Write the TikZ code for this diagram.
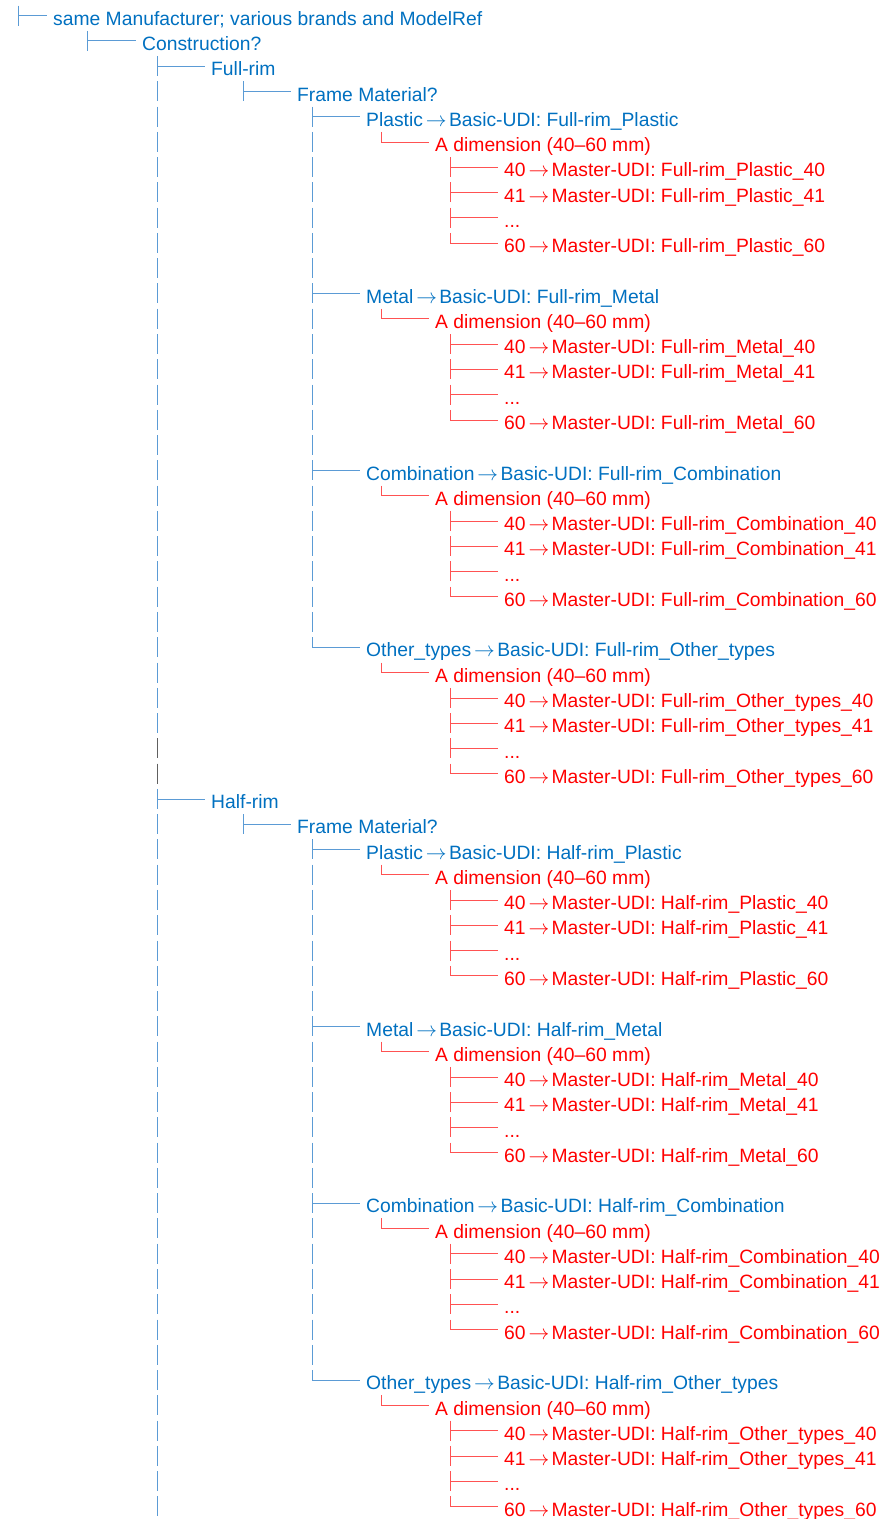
\documentclass[tikz,border=0pt]{standalone}
\usepackage{fontspec}
\setmainfont{Liberation Sans}
\definecolor{udiblue}{HTML}{0070C0}
\definecolor{udired}{HTML}{FF0000}
\definecolor{lnblue}{HTML}{5B9BD5}
\definecolor{lnred}{HTML}{FF5252}
\definecolor{lngray}{HTML}{606060}
\newcommand{\Y}[1]{-25.2-(#1-1)*25.27}% baseline of row #1
\newcommand{\To}{\kern-2.5pt$\rightarrow$\kern-3pt}
\tikzset{lbl/.style={anchor=base west,inner xsep=6pt,inner ysep=0pt,text height=19.5pt,text depth=0.5pt,font=\fontsize{19.3}{23}\selectfont}}
\tikzset{blu/.style={lbl,text=udiblue},rd/.style={lbl,text=udired}}
\tikzset{bbar/.style={draw=lnblue,line width=1pt,dash pattern=on 20pt off 5.27pt},rbar/.style={bbar,draw=lnred},gbar/.style={bbar,draw=lngray}}
\tikzset{bl/.style={draw=lnblue,line width=1pt},rl/.style={draw=lnred,line width=1pt}}
\begin{document}
\begin{tikzpicture}[x=1pt,y=1pt]
\useasboundingbox(0,0)rectangle(879,-1519);\clip(0,0)rectangle(879,-1519);
% tree columns
\coordinate(k0)at(18,19.57);\coordinate(k1)at(87,0);\coordinate(k2)at(157,0);\coordinate(k3)at(243,0);
\coordinate(k4)at(312,0);\coordinate(k5)at(381,0);\coordinate(k6)at(450,0);\coordinate(kend)at(157,-1545);
\node[blu](sm)at(47,{\Y{1}}){same Manufacturer; various brands and ModelRef};
\node[blu](cn)at(136,{\Y{2}}){Construction?};
\draw[bbar](k0)--(sm.south-|k0);\draw[bl](sm.west-|k0)--(sm.west);
\draw[bbar](cn.north-|k1)--(cn.south-|k1);\draw[bl](cn.west-|k1)--(cn.west);
\foreach \h/\hr [count=\i] in {0/Full-rim,29/Half-rim}{
  \node[blu](c\i)at(205,{\Y{3+\h}}){\hr};
  \node[blu](f\i)at(291,{\Y{4+\h}}){Frame Material?};
  \draw[bl](c\i.west-|k2)--(c\i.west);
  \draw[bbar](f\i.north-|k3)--(f\i.south-|k3);\draw[bl](f\i.west-|k3)--(f\i.west);
  \foreach \k/\m [count=\j] in {0/Plastic,7/Metal,14/Combination,21/Other\_types}{
    \node[blu](m\i\j)at(360,{\Y{5+\h+\k}}){\m{} \To{} Basic-UDI: \hr\_\m};
    \node[rd](a\i\j)at(429,{\Y{6+\h+\k}}){A dimension (40–60 mm)};
    \node[rd](v\i\j1)at(498,{\Y{7+\h+\k}}){40 \To{} Master-UDI: \hr\_\m\_40};
    \node[rd](v\i\j2)at(498,{\Y{8+\h+\k}}){41 \To{} Master-UDI: \hr\_\m\_41};
    \node[rd](v\i\j3)at(498,{\Y{9+\h+\k}}){...};
    \node[rd](v\i\j4)at(498,{\Y{10+\h+\k}}){60 \To{} Master-UDI: \hr\_\m\_60};
    \draw[bl](m\i\j.west-|k4)--(m\i\j.west);
    \draw[rbar](a\i\j.north-|k5)--(a\i\j.west-|k5);\draw[rl](a\i\j.west-|k5)--(a\i\j.west);
    \draw[rbar](v\i\j1.north-|k6)--(v\i\j4.west-|k6);
    \foreach \n in {1,...,4}{\draw[rl](v\i\j\n.west-|k6)--(v\i\j\n.west);}
  }
  \draw[bbar](m\i1.north-|k4)--(m\i4.west-|k4);
}
\draw[bbar](c1.north-|k2)--(kend);
\draw[gbar](v143.north-|k2)--(v144.south-|k2);
\end{tikzpicture}
\end{document}
